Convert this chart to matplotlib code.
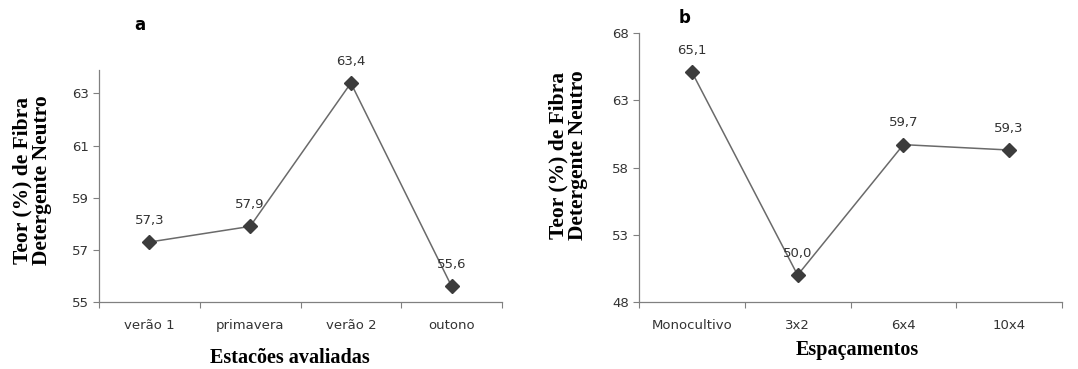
import matplotlib.pyplot as plt
import numpy as np

# panel a
estacoes = ["verão 1", "primavera", "verão 2", "outono"]
fdn_estacoes = [57.3, 57.9, 63.4, 55.6]
# panel b
espacamentos = ["Monocultivo", "3x2", "6x4", "10x4"]
fdn_espac = [65.1, 50.0, 59.7, 59.3]

sans = "DejaVu Sans"
serif = "Liberation Serif"
gray = "#6a6a6a"
dark = "#3c3c3c"


def draw_panel(ax, cats, vals, yticks, ylim, xlabel, ylab_xy, xlab_xy):
    x = np.arange(len(cats)) + 0.5
    ax.plot(x, vals, color=gray, lw=1.1, marker="D", ms=7,
            mfc=dark, mec=dark, zorder=3)
    for xi, v in zip(x, vals):
        ax.annotate(f"{v:.1f}".replace(".", ","), (xi, v), xytext=(0, 11),
                    textcoords="offset points", ha="center", va="bottom",
                    fontsize=9.5, family=sans, color="#333333")
    ax.set_xlim(0, len(cats))
    ax.set_ylim(*ylim)
    ax.set_yticks(yticks)
    ax.set_yticklabels([str(t) for t in yticks], fontsize=9.5, family=sans, color="#333333")
    ax.set_xticks(np.arange(len(cats) + 1))
    ax.set_xticklabels([])
    ax.set_xticks(x, minor=True)
    ax.set_xticklabels(cats, minor=True, fontsize=9.5, family=sans, color="#333333")
    ax.tick_params(axis="x", which="minor", length=0, pad=12)
    ax.tick_params(axis="x", which="major", length=4, color="#808080")
    ax.tick_params(axis="y", length=4, color="#808080", pad=3)
    for s in ["top", "right"]:
        ax.spines[s].set_visible(False)
    for s in ["left", "bottom"]:
        ax.spines[s].set_color("#808080")
        ax.spines[s].set_linewidth(0.9)
    ax.set_ylabel("Teor (%) de Fibra\nDetergente Neutro", family=serif,
                  fontweight="bold", fontsize=15.5, linespacing=0.95)
    ax.yaxis.set_label_coords(*ylab_xy)
    ax.yaxis.label.set_va("center")
    ax.set_xlabel(xlabel, family=serif, fontweight="bold", fontsize=14.5)
    ax.xaxis.set_label_coords(*xlab_xy)
    ax.xaxis.label.set_va("center")
    return ax


fig = plt.figure(figsize=(10.78, 3.69), dpi=100)
ax1 = fig.add_axes([99 / 1078, 1 - 302 / 369, 403 / 1078, 232 / 369])
ax2 = fig.add_axes([639 / 1078, 1 - 302 / 369, 423 / 1078, 269 / 369])

draw_panel(ax1, estacoes, fdn_estacoes, [55, 57, 59, 61, 63], (55, 63.9),
           "Estacões avaliadas", (-0.166, 0.526), (0.474, -0.24))
draw_panel(ax2, espacamentos, fdn_espac, [48, 53, 58, 63, 68], (48, 68),
           "Espaçamentos", (-0.168, 0.546), (0.515, -0.178))

fig.text(140 / 1078, 1 - 25 / 369, "a", fontsize=12, fontweight="bold",
         family=sans, ha="center", va="center")
fig.text(685 / 1078, 1 - 18 / 369, "b", fontsize=12, fontweight="bold",
         family=sans, ha="center", va="center")

fig.savefig("out.png", dpi=100)
